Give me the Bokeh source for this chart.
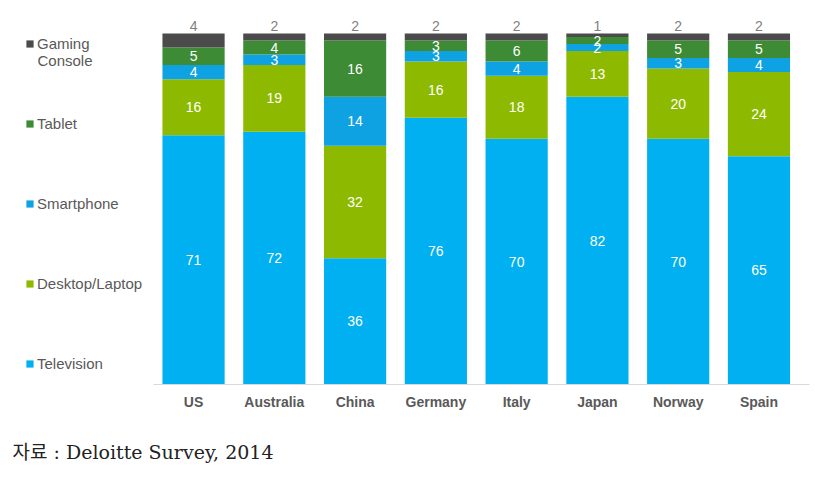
from bokeh.plotting import figure
from bokeh.models import (ColumnDataSource, Range1d, Legend, LegendItem, Label, Title,
                          FixedTicker)
from bokeh.core.properties import value
from bokeh.embed import file_html
from bokeh.resources import INLINE

countries = ["US", "Australia", "China", "Germany", "Italy", "Japan", "Norway", "Spain"]
television = [71, 72, 36, 76, 70, 82, 70, 65]
desktop = [16, 19, 32, 16, 18, 13, 20, 24]
smartphone = [4, 3, 14, 3, 4, 2, 3, 4]
tablet = [5, 4, 16, 3, 6, 2, 5, 5]
gaming = [4, 2, 2, 2, 2, 1, 2, 2]

keys = ["television", "desktop", "smartphone", "tablet", "gaming"]
names = ["Television", "Desktop/Laptop", "Smartphone", "Tablet", "Gaming"]
colors = ["#00B0F0", "#8DBA00", "#0FA2E2", "#3D8B35", "#4B4B4B"]
series = [television, desktop, smartphone, tablet, gaming]

FONT = "Liberation Sans"
pos = list(range(len(countries)))

p = figure(width=815, height=489, x_range=Range1d(-2.39, 7.70),
           y_range=Range1d(0, 105.7), output_backend="svg", toolbar_location=None,
           y_axis_type=None, min_border_left=0, min_border_right=0,
           min_border_top=13, min_border_bottom=105)
p.outline_line_color = None
p.xgrid.grid_line_color = None
p.ygrid.grid_line_color = None

src = ColumnDataSource(dict(x=pos, **{k: v for k, v in zip(keys, series)}))
renderers = p.vbar_stack(keys, x="x", width=0.77, source=src, color=colors, line_color=None)

# inside labels
xs, ys, ts = [], [], []
for i in pos:
    base = 0
    for s in series[:4]:
        v = s[i]
        xs.append(i); ys.append(base + v / 2); ts.append(str(v))
        base += v
lab = ColumnDataSource(dict(x=xs, y=ys, t=ts))
p.text(x="x", y="y", text="t", source=lab, text_color="white", text_font=value(FONT),
       text_font_size="14px", text_align="center", text_baseline="middle")

tops = [sum(s[i] for s in series) for i in pos]
top_src = ColumnDataSource(dict(x=pos, y=tops, t=[str(g) for g in gaming]))
p.text(x="x", y="y", text="t", source=top_src, text_color="#7F7F7F", text_font=value(FONT),
       text_font_size="14px", text_align="center", text_baseline="bottom", y_offset=-3)

ax = p.xaxis[0]
ax.ticker = FixedTicker(ticks=pos)
ax.major_label_overrides = {i: c for i, c in zip(pos, countries)}
ax.bounds = (-0.5, 7.62)
ax.axis_line_color = "#D9D9D9"
ax.major_tick_line_color = None
ax.minor_tick_line_color = None
ax.major_label_text_font = FONT
ax.major_label_text_font_style = "bold"
ax.major_label_text_font_size = "14px"
ax.major_label_text_color = "#595959"
ax.major_label_standoff = 3

items = [LegendItem(label=names[k], renderers=[renderers[k]]) for k in range(4, -1, -1)]
legend = Legend(items=items, location=(25, 12), orientation="vertical",
                glyph_width=9, glyph_height=9, label_height=17, spacing=63,
                label_standoff=3, padding=0, margin=0,
                label_text_font=FONT, label_text_font_size="15px", label_text_color="#595959",
                background_fill_alpha=0, border_line_color=None)
p.add_layout(legend, "center")

p.add_layout(Label(x=37, y=324, x_units="screen", y_units="screen", text="Console",
                   text_font=FONT, text_font_size="15px", text_color="#595959",
                   text_baseline="middle"))

p.add_layout(Title(text="자료 : Deloitte Survey, 2014", align="left", offset=12,
                   text_font="DejaVu Serif, Noto Sans CJK KR", text_font_size="19px",
                   text_font_style="normal", text_color="#222222", standoff=52), "below")

open("out.html", "w").write(file_html(p, INLINE))
